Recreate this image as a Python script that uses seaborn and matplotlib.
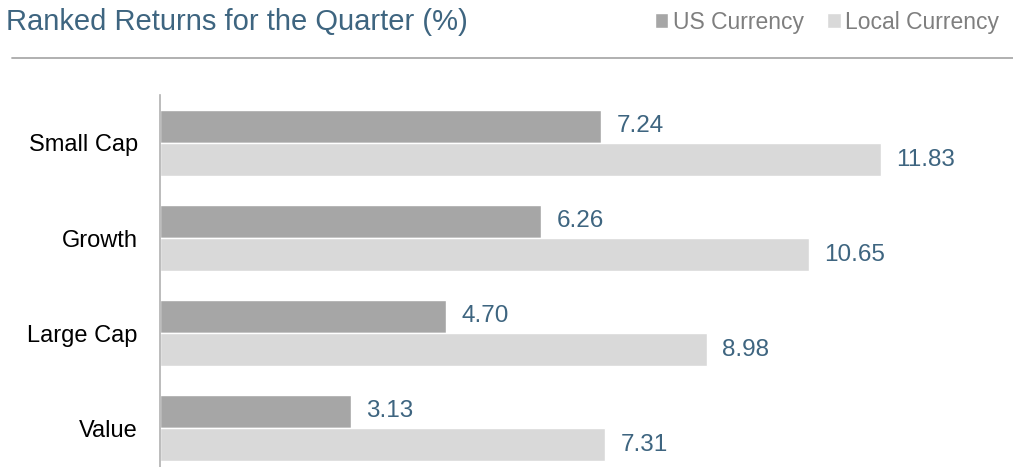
import pandas as pd
import matplotlib
matplotlib.use('Agg')
import matplotlib.pyplot as plt
import seaborn as sns

# data
categories = ['Small Cap', 'Growth', 'Large Cap', 'Value']
us_currency = [7.24, 6.26, 4.70, 3.13]
local_currency = [11.83, 10.65, 8.98, 7.31]
series_names = ['US Currency', 'Local Currency']

df = pd.DataFrame({
    'category': categories * 2,
    'series': [series_names[0]] * 4 + [series_names[1]] * 4,
    'value': us_currency + local_currency,
})

sns.set_theme(style='white')
plt.rcParams['font.family'] = ['Liberation Sans', 'DejaVu Sans']

title_color = '#3E6580'
palette = {'US Currency': '#A6A6A6', 'Local Currency': '#D9D9D9'}

fig = plt.figure(figsize=(10.13, 4.67), dpi=100)
ax = fig.add_axes([160 / 1013, 0, 853 / 1013, 372 / 467])

sns.barplot(data=df, y='category', x='value', hue='series', order=categories,
            hue_order=series_names, palette=palette, width=0.7, saturation=1,
            orient='h', ax=ax)

ax.set_xlim(0, 14)
ax.set_ylim(3.41, -0.505)
ax.set_xlabel('')
ax.set_ylabel('')
ax.set_xticks([])
ax.tick_params(axis='y', labelsize=17, pad=16, length=0, colors='black')

for spine in ['top', 'right', 'bottom']:
    ax.spines[spine].set_visible(False)
ax.spines['left'].set_color('#B0B0B0')
ax.spines['left'].set_linewidth(1.2)

for cont in ax.containers:
    ax.bar_label(cont, fmt='%.2f', padding=11, fontsize=17.5, color=title_color)

sns.move_legend(ax, loc='center right', bbox_to_anchor=(1.0, 1 - 22 / 467),
                bbox_transform=fig.transFigure, ncol=2, frameon=False, title=None,
                fontsize=16.5, handlelength=0.6, handleheight=0.6,
                handletextpad=0.2, columnspacing=1.0, borderaxespad=0.2)
for t in ax.get_legend().get_texts():
    t.set_color('#7F7F7F')

fig.text(6 / 1013, 1 - 22 / 467, 'Ranked Returns for the Quarter (%)', fontsize=21,
         color=title_color, ha='left', va='center')
fig.add_artist(plt.Line2D([12 / 1013, 1.0], [1 - 58 / 467, 1 - 58 / 467],
                          color='#AAAAAA', linewidth=1.3, transform=fig.transFigure))

fig.savefig('out.png', dpi=100)
